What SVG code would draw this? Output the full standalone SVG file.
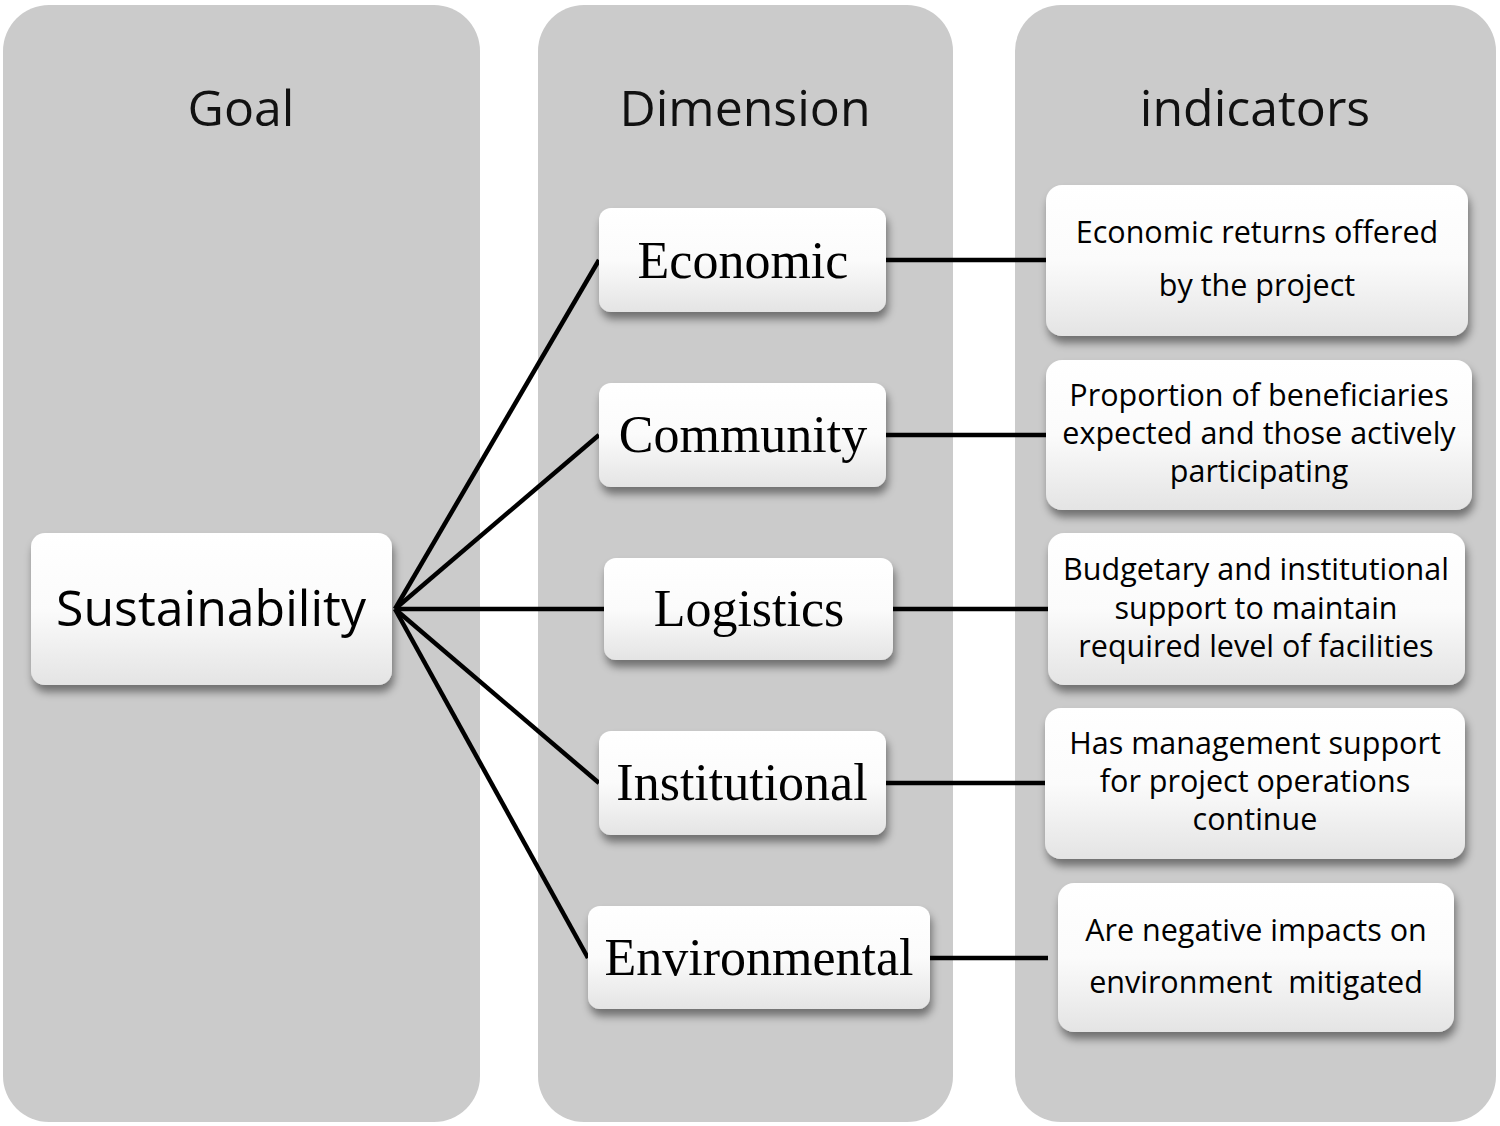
<svg xmlns="http://www.w3.org/2000/svg" width="1500" height="1126" viewBox="0 0 1500 1126">
<defs>
<linearGradient id="boxg" x1="0" y1="0" x2="0" y2="1">
<stop offset="0" stop-color="#ffffff"/>
<stop offset="0.5" stop-color="#fbfbfb"/>
<stop offset="1" stop-color="#e4e4e4"/>
</linearGradient>
<filter id="sh" x="-10%" y="-20%" width="125%" height="150%">
<feDropShadow dx="2" dy="7" stdDeviation="4" flood-color="#000" flood-opacity="0.45"/>
</filter>
</defs>
<style>
.col{fill:#cbcbcb}
.hdr{font-family:"Open Sans","Liberation Sans",sans-serif;font-size:50px;fill:#111;text-anchor:middle}
.box{fill:url(#boxg);filter:url(#sh)}
.dim{font-family:"Liberation Serif","DejaVu Serif",serif;font-size:52px;fill:#000;text-anchor:middle}
.goal{font-family:"Open Sans","Liberation Sans",sans-serif;font-size:50px;fill:#000;text-anchor:middle}
.ind{font-family:"Open Sans","Liberation Sans",sans-serif;font-size:30.5px;fill:#000;text-anchor:middle}
.con{stroke:#000;stroke-width:4.5;fill:none}
</style>
<rect width="1500" height="1126" fill="#fff"/>
<g id="columns">
<rect class="col" x="3" y="5" width="477" height="1117" rx="46"/>
<rect class="col" x="538" y="5" width="415" height="1117" rx="46"/>
<rect class="col" x="1015" y="5" width="481" height="1117" rx="46"/>
<text class="hdr" x="241" y="126">Goal</text>
<text class="hdr" x="745" y="126">Dimension</text>
<text class="hdr" x="1255" y="126">indicators</text>
</g>
<g id="connectors">
<line class="con" x1="395" y1="609" x2="599" y2="260"/>
<line class="con" x1="395" y1="609" x2="599" y2="435"/>
<line class="con" x1="395" y1="609" x2="604" y2="609"/>
<line class="con" x1="395" y1="609" x2="599" y2="783"/>
<line class="con" x1="395" y1="609" x2="588" y2="958"/>
<line class="con" x1="886" y1="260" x2="1046" y2="260"/>
<line class="con" x1="886" y1="435" x2="1046" y2="435"/>
<line class="con" x1="893" y1="609" x2="1048" y2="609"/>
<line class="con" x1="886" y1="783" x2="1045" y2="783"/>
<line class="con" x1="930" y1="958" x2="1048" y2="958"/>
</g>
<g id="node-sustainability">
<rect class="box" x="31" y="533" width="361" height="152" rx="14"/>
<text class="goal" x="211" y="626">Sustainability</text>
</g>
<g id="node-economic">
<rect class="box" x="599" y="208" width="287" height="104" rx="12"/>
<text class="dim" x="743" y="278">Economic</text>
</g>
<g id="node-community">
<rect class="box" x="599" y="383" width="287" height="104" rx="12"/>
<text class="dim" x="743" y="452">Community</text>
</g>
<g id="node-logistics">
<rect class="box" x="604" y="558" width="289" height="102" rx="12"/>
<text class="dim" x="749" y="626">Logistics</text>
</g>
<g id="node-institutional">
<rect class="box" x="599" y="731" width="287" height="104" rx="12"/>
<text class="dim" x="742" y="800">Institutional</text>
</g>
<g id="node-environmental">
<rect class="box" x="588" y="906" width="342" height="103" rx="12"/>
<text class="dim" x="759" y="975">Environmental</text>
</g>
<g id="ind-economic">
<rect class="box" x="1046" y="185" width="422" height="151" rx="16"/>
<text class="ind" x="1257" y="243">Economic returns offered</text>
<text class="ind" x="1257" y="296">by the project</text>
</g>
<g id="ind-community">
<rect class="box" x="1046" y="360" width="426" height="150" rx="16"/>
<text class="ind" x="1259" y="406">Proportion of beneficiaries</text>
<text class="ind" x="1259" y="444">expected and those actively</text>
<text class="ind" x="1259" y="482">participating</text>
</g>
<g id="ind-logistics">
<rect class="box" x="1048" y="533" width="417" height="152" rx="16"/>
<text class="ind" x="1256" y="580">Budgetary and institutional</text>
<text class="ind" x="1256" y="619">support to maintain</text>
<text class="ind" x="1256" y="657">required level of facilities</text>
</g>
<g id="ind-institutional">
<rect class="box" x="1045" y="708" width="420" height="151" rx="16"/>
<text class="ind" x="1255" y="754">Has management support</text>
<text class="ind" x="1255" y="792">for project operations</text>
<text class="ind" x="1255" y="830">continue</text>
</g>
<g id="ind-environmental">
<rect class="box" x="1058" y="883" width="396" height="149" rx="16"/>
<text class="ind" x="1256" y="941">Are negative impacts on</text>
<text class="ind" x="1256" y="993" xml:space="preserve">environment  mitigated</text>
</g>
</svg>
